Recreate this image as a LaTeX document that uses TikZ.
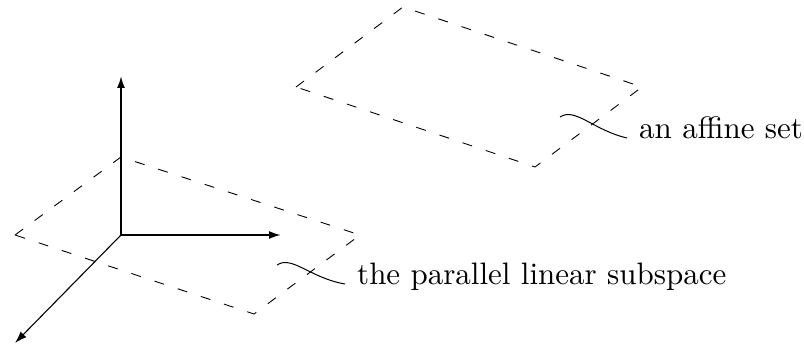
\documentclass[tikz,border=0pt]{standalone}
\usepackage{fontspec,tikz}
\usetikzlibrary{arrows.meta}
\newfontfamily\lmten{lmroman10-regular}[Extension=.otf]

\tikzset{
  plane/.style={dash pattern=on 10pt off 14.4pt,line width=0.9pt},
  axis/.style={line width=1.9pt,-{Latex[length=12pt,width=8pt]}},
  leader/.style={line width=1pt},
  lbl/.style={anchor=base west,inner sep=0pt,font=\lmten\fontsize{31}{37}\selectfont}
}

\begin{document}
\begin{tikzpicture}[x=1pt,y=-1pt]
\path[use as bounding box] (0,0) rectangle (804,347);
% the parallel linear subspace
\coordinate (o) at (121,235);
\draw[plane] (15,235) -- (121,157) -- (360,235) -- (254,314) -- cycle;
\draw[axis] (o) -- (121,76);
\draw[axis] (o) -- (281,235);
\draw[line width=1.1pt,-{Latex[length=12pt,width=8pt]}] (o) -- (15,343);
% the affine set
\draw[plane] (296,87) -- (403,7) -- (642,87) -- (535,167) -- cycle;
% labels
\node[lbl] (sub) at (357,285) {the parallel linear subspace};
\node[lbl] (aff) at (639,139) {an affine set};
\coordinate (subend) at (277,265);
\coordinate (affend) at (560,117);
\draw[leader] (subend) .. controls (292,255) and (310,278) .. ([xshift=-12pt,yshift=1pt]sub.base west);
\draw[leader] (affend) .. controls (575,107) and (593,130) .. ([xshift=-12pt,yshift=1pt]aff.base west);
\end{tikzpicture}
\end{document}
